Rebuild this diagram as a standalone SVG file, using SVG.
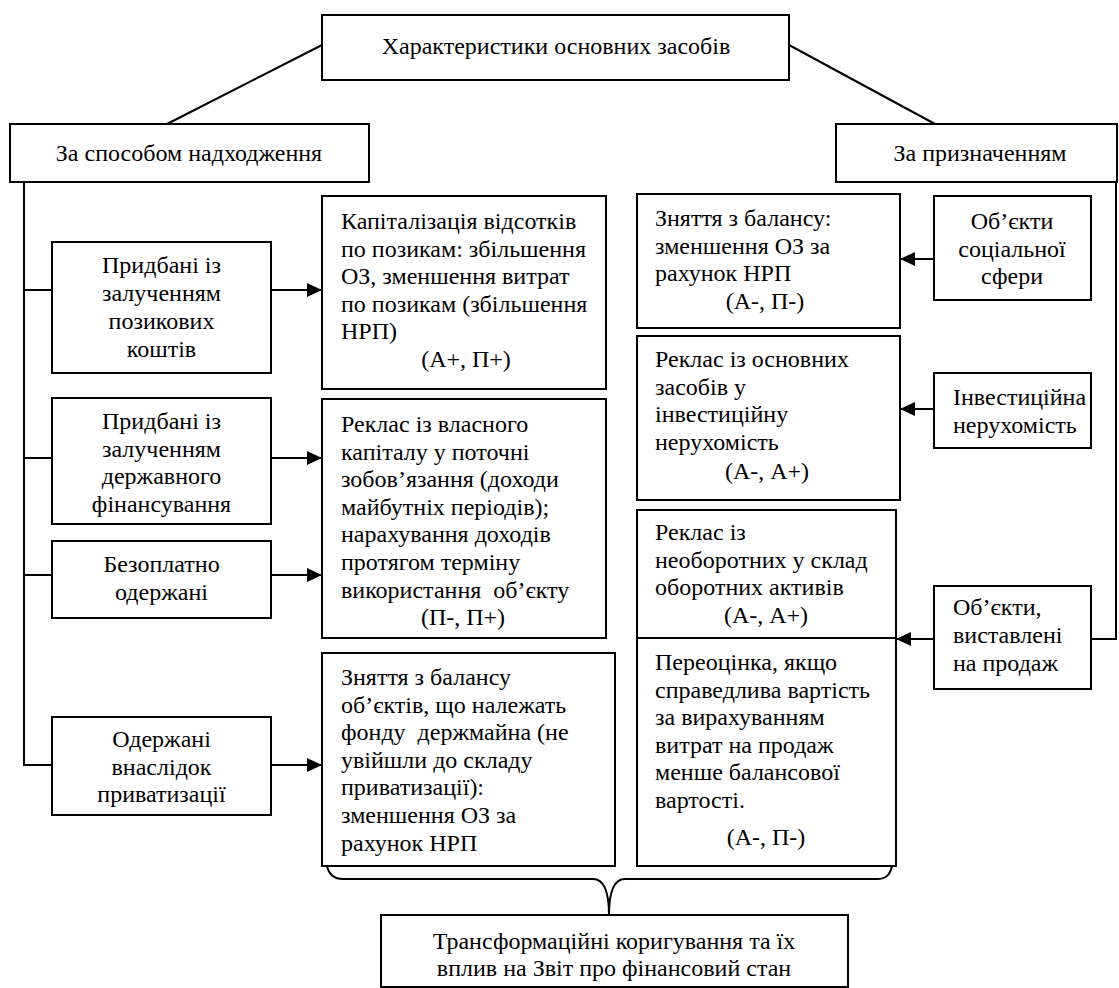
<svg xmlns="http://www.w3.org/2000/svg" width="1119" height="988" viewBox="0 0 1119 988">
<style>
.b{fill:#fff;stroke:#000;stroke-width:2}
.l{fill:none;stroke:#000;stroke-width:2}
text{font-family:"Liberation Serif","DejaVu Serif",serif;font-size:24px;fill:#000}
.c{text-anchor:middle}
</style>
<defs>
<marker id="ah" markerWidth="15" markerHeight="14" refX="15" refY="7" orient="auto" markerUnits="userSpaceOnUse">
<path d="M0,0 L15,7 L0,14 Z" fill="#000"/>
</marker>
</defs>
<rect width="1119" height="988" fill="#fff"/>
<g id="connectors">
<line class="l" x1="322" y1="45" x2="167" y2="124"/>
<line class="l" x1="789" y1="45" x2="935" y2="124"/>
<polyline class="l" points="24,182 24,765 52,765"/>
<line class="l" x1="24" y1="290" x2="52" y2="290"/>
<line class="l" x1="24" y1="458" x2="52" y2="458"/>
<line class="l" x1="24" y1="575" x2="52" y2="575"/>
<line class="l" x1="271" y1="290" x2="322" y2="290" marker-end="url(#ah)"/>
<line class="l" x1="271" y1="458" x2="322" y2="458" marker-end="url(#ah)"/>
<line class="l" x1="271" y1="575" x2="322" y2="575" marker-end="url(#ah)"/>
<line class="l" x1="271" y1="765" x2="322" y2="765" marker-end="url(#ah)"/>
<polyline class="l" points="1116,182 1116,639 1091,639"/>
<line class="l" x1="934" y1="259" x2="900" y2="259" marker-end="url(#ah)"/>
<line class="l" x1="934" y1="409" x2="900" y2="409" marker-end="url(#ah)"/>
<line class="l" x1="934" y1="639" x2="896" y2="639" marker-end="url(#ah)"/>
<path class="l" d="M327,866 C329,875 334,879 343,879 L593,879 C603,879 609,890 609,915 C609,890 615,879 625,879 L877,879 C886,879 890,875 892,866"/>
</g>
<g id="title">
<rect class="b" x="322" y="15" width="467" height="65"/>
<text class="c" x="556" y="54">Характеристики основних засобів</text>
</g>
<g id="by-receipt">
<rect class="b" x="10" y="124" width="359" height="58"/>
<text class="c" x="189" y="161">За способом надходження</text>
</g>
<g id="by-purpose">
<rect class="b" x="836" y="124" width="281" height="58"/>
<text class="c" x="980" y="161">За призначенням</text>
</g>
<g id="borrowed">
<rect class="b" x="52" y="242" width="219" height="131"/>
<text class="c" x="161.5" y="273">Придбані із</text>
<text class="c" x="161.5" y="301">залученням</text>
<text class="c" x="161.5" y="329">позикових</text>
<text class="c" x="161.5" y="357">коштів</text>
</g>
<g id="state-funded">
<rect class="b" x="52" y="398" width="219" height="126"/>
<text class="c" x="161.5" y="429">Придбані із</text>
<text class="c" x="161.5" y="457">залученням</text>
<text class="c" x="161.5" y="484">державного</text>
<text class="c" x="161.5" y="512">фінансування</text>
</g>
<g id="free">
<rect class="b" x="52" y="541" width="219" height="77"/>
<text class="c" x="161.5" y="572">Безоплатно</text>
<text class="c" x="161.5" y="600">одержані</text>
</g>
<g id="privatization">
<rect class="b" x="52" y="717" width="219" height="98"/>
<text class="c" x="161.5" y="747">Одержані</text>
<text class="c" x="161.5" y="775">внаслідок</text>
<text class="c" x="161.5" y="802">приватизації</text>
</g>
<g id="capitalization">
<rect class="b" x="322" y="196" width="284" height="193"/>
<text x="341" y="229">Капіталізація відсотків</text>
<text x="341" y="256.6">по позикам: збільшення</text>
<text x="341" y="284.2">ОЗ, зменшення витрат</text>
<text x="341" y="311.8">по позикам (збільшення</text>
<text x="341" y="339.4">НРП)</text>
<text class="c" x="466" y="367">(А+, П+)</text>
</g>
<g id="reclass-equity">
<rect class="b" x="322" y="399" width="284" height="239"/>
<text x="341" y="432">Реклас із власного</text>
<text x="341" y="459.6">капіталу у поточні</text>
<text x="341" y="487.2">зобов’язання (доходи</text>
<text x="341" y="514.8">майбутніх періодів);</text>
<text x="341" y="542.4">нарахування доходів</text>
<text x="341" y="570">протягом терміну</text>
<text x="341" y="597.6" xml:space="preserve">використання  об’єкту</text>
<text class="c" x="463" y="625.2">(П-, П+)</text>
</g>
<g id="derecognition-state">
<rect class="b" x="322" y="653" width="293" height="213"/>
<text x="341" y="685">Зняття з балансу</text>
<text x="341" y="712.6">об’єктів, що належать</text>
<text x="341" y="740.2" xml:space="preserve">фонду  держмайна (не</text>
<text x="341" y="767.8">увійшли до складу</text>
<text x="341" y="795.4">приватизації):</text>
<text x="341" y="823">зменшення ОЗ за</text>
<text x="341" y="850.6">рахунок НРП</text>
</g>
<g id="derecognition-social">
<rect class="b" x="637" y="194" width="263" height="134"/>
<text x="655" y="226">Зняття з балансу:</text>
<text x="655" y="253.6">зменшення ОЗ за</text>
<text x="655" y="281.2">рахунок НРП</text>
<text class="c" x="765" y="308.8">(А-, П-)</text>
</g>
<g id="reclass-investment">
<rect class="b" x="637" y="336" width="263" height="164"/>
<text x="655" y="367">Реклас із основних</text>
<text x="655" y="394.6">засобів у</text>
<text x="655" y="422.2">інвестиційну</text>
<text x="655" y="449.8">нерухомість</text>
<text class="c" x="767" y="479.4">(А-, А+)</text>
</g>
<g id="reclass-current">
<rect class="b" x="637" y="510" width="259" height="356"/>
<line class="l" x1="637" y1="638" x2="896" y2="638"/>
<text x="655" y="540">Реклас із</text>
<text x="655" y="567.6">необоротних у склад</text>
<text x="655" y="595.2">оборотних активів</text>
<text class="c" x="766" y="622.8">(А-, А+)</text>
<text x="655" y="670">Переоцінка, якщо</text>
<text x="655" y="697.6">справедлива вартість</text>
<text x="655" y="725.2">за вирахуванням</text>
<text x="655" y="752.8">витрат на продаж</text>
<text x="655" y="780.4">менше балансової</text>
<text x="655" y="808">вартості.</text>
<text class="c" x="766" y="845">(А-, П-)</text>
</g>
<g id="social">
<rect class="b" x="934" y="196" width="157" height="104"/>
<text class="c" x="1012" y="229">Об’єкти</text>
<text class="c" x="1012" y="256.6">соціальної</text>
<text class="c" x="1012" y="284.2">сфери</text>
</g>
<g id="investment-property">
<rect class="b" x="934" y="373" width="157" height="75"/>
<text x="953" y="405">Інвестиційна</text>
<text x="953" y="433">нерухомість</text>
</g>
<g id="held-for-sale">
<rect class="b" x="934" y="586" width="157" height="103"/>
<text x="953" y="615">Об’єкти,</text>
<text x="953" y="643">виставлені</text>
<text x="953" y="671">на продаж</text>
</g>
<g id="result">
<rect class="b" x="381" y="915" width="467" height="72"/>
<text class="c" x="614" y="949">Трансформаційні коригування та їх</text>
<text class="c" x="614" y="976">вплив на Звіт про фінансовий стан</text>
</g>
</svg>
